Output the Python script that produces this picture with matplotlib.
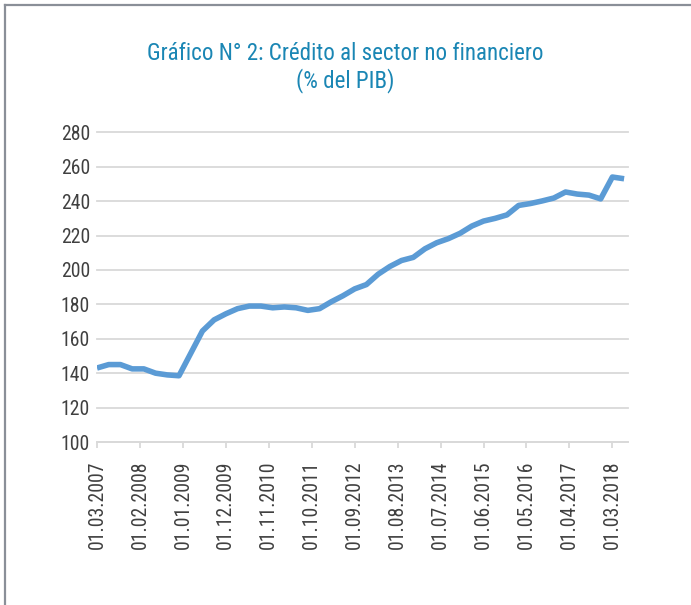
import matplotlib
matplotlib.use("Agg")
import matplotlib.pyplot as plt
import pandas as pd
from matplotlib import font_manager
from matplotlib.lines import Line2D

# quarterly data, credit to non-financial sector (% of GDP)
quarters = pd.period_range("2007-03", "2018-06", freq="3M")
credit = [143, 145, 145, 142.5, 142.5, 140, 139, 138.5,
          151.5, 164.5, 171, 174.5, 177.5, 179, 179, 178,
          178.5, 178, 176.5, 177.5, 181.5, 185, 189, 191.5,
          197.5, 202, 205.5, 207.3, 212.3, 215.8, 218.2, 221.3,
          225.5, 228.4, 230, 232, 237.5, 238.6, 240.1, 241.8,
          245.3, 244.1, 243.5, 241.3, 254, 253]
tick_labels = ["01.03.2007", "01.02.2008", "01.01.2009", "01.12.2009",
               "01.11.2010", "01.10.2011", "01.09.2012", "01.08.2013",
               "01.07.2014", "01.06.2015", "01.05.2016", "01.04.2017",
               "01.03.2018"]
y_ticks = list(range(100, 281, 20))

# look for a condensed face among the installed fonts
font_kw = {"family": "DejaVu Sans"}
installed = {(f.name, f.stretch) for f in font_manager.fontManager.ttflist}
for name in ["Roboto Condensed", "Liberation Sans Narrow", "Open Sans Condensed",
             "Noto Sans Display", "Arial Narrow"]:
    if any(n == name for n, _ in installed):
        font_kw = {"family": name}
        break
else:
    for n, st in installed:
        if n in ("Roboto", "Noto Sans", "Open Sans", "DejaVu Sans", "Inter") and \
                str(st) in ("condensed", "semi-condensed", "extra-condensed", "75", "87"):
            font_kw = {"family": n, "stretch": st}
            break

plt.rcParams["font.family"] = [font_kw["family"], "DejaVu Sans"]
if "stretch" in font_kw:
    plt.rcParams["font.stretch"] = font_kw["stretch"]

start = quarters[0]
months = [(q - start).n for q in quarters]
tick_pos = [i * 11 for i in range(len(tick_labels))]

fig = plt.figure(figsize=(6.91, 6.05), dpi=100)
ax = fig.add_axes([97 / 691, 1 - 442 / 605, 531 / 691, (442 - 132.3) / 605])

ax.plot(months, credit, color="#5b9bd5", lw=4, solid_capstyle="butt",
        solid_joinstyle="round", zorder=3)

ax.set_ylim(100, 280)
ax.set_xlim(0, 136)
ax.set_yticks(y_ticks)
ax.set_xticks(tick_pos)
ax.set_xticklabels(tick_labels, rotation=90)

for sp in ["top", "right", "left"]:
    ax.spines[sp].set_visible(False)
ax.spines["bottom"].set_color("#d9d9d9")
ax.spines["bottom"].set_linewidth(1.3)
ax.grid(axis="y", color="#d9d9d9", lw=1.3)
for gl in ax.get_ygridlines():
    gl.set_clip_on(False)
ax.set_axisbelow(True)
ax.tick_params(axis="y", length=0, pad=5, labelsize=14.2, labelcolor="#404040")
ax.tick_params(axis="x", length=4, width=1.3, color="#d9d9d9", pad=9,
               labelsize=14.2, labelcolor="#404040")

fig.text(0.5, 1 - 53 / 605, "Gráfico N° 2: Crédito al sector no financiero",
         ha="center", va="center", fontsize=16.6, color="#1a86b4")
fig.text(0.5, 1 - 81 / 605, "(% del PIB)",
         ha="center", va="center", fontsize=16.6, color="#1a86b4")

# frame lines on top and left edge
fig.add_artist(Line2D([4.5 / 691, 1], [1 - 4.5 / 605, 1 - 4.5 / 605],
                      transform=fig.transFigure, color="#8a8f98", lw=1.6))
fig.add_artist(Line2D([4.5 / 691, 4.5 / 691], [0, 1 - 4.5 / 605],
                      transform=fig.transFigure, color="#8a8f98", lw=1.6))

fig.savefig("out.png", dpi=100)
